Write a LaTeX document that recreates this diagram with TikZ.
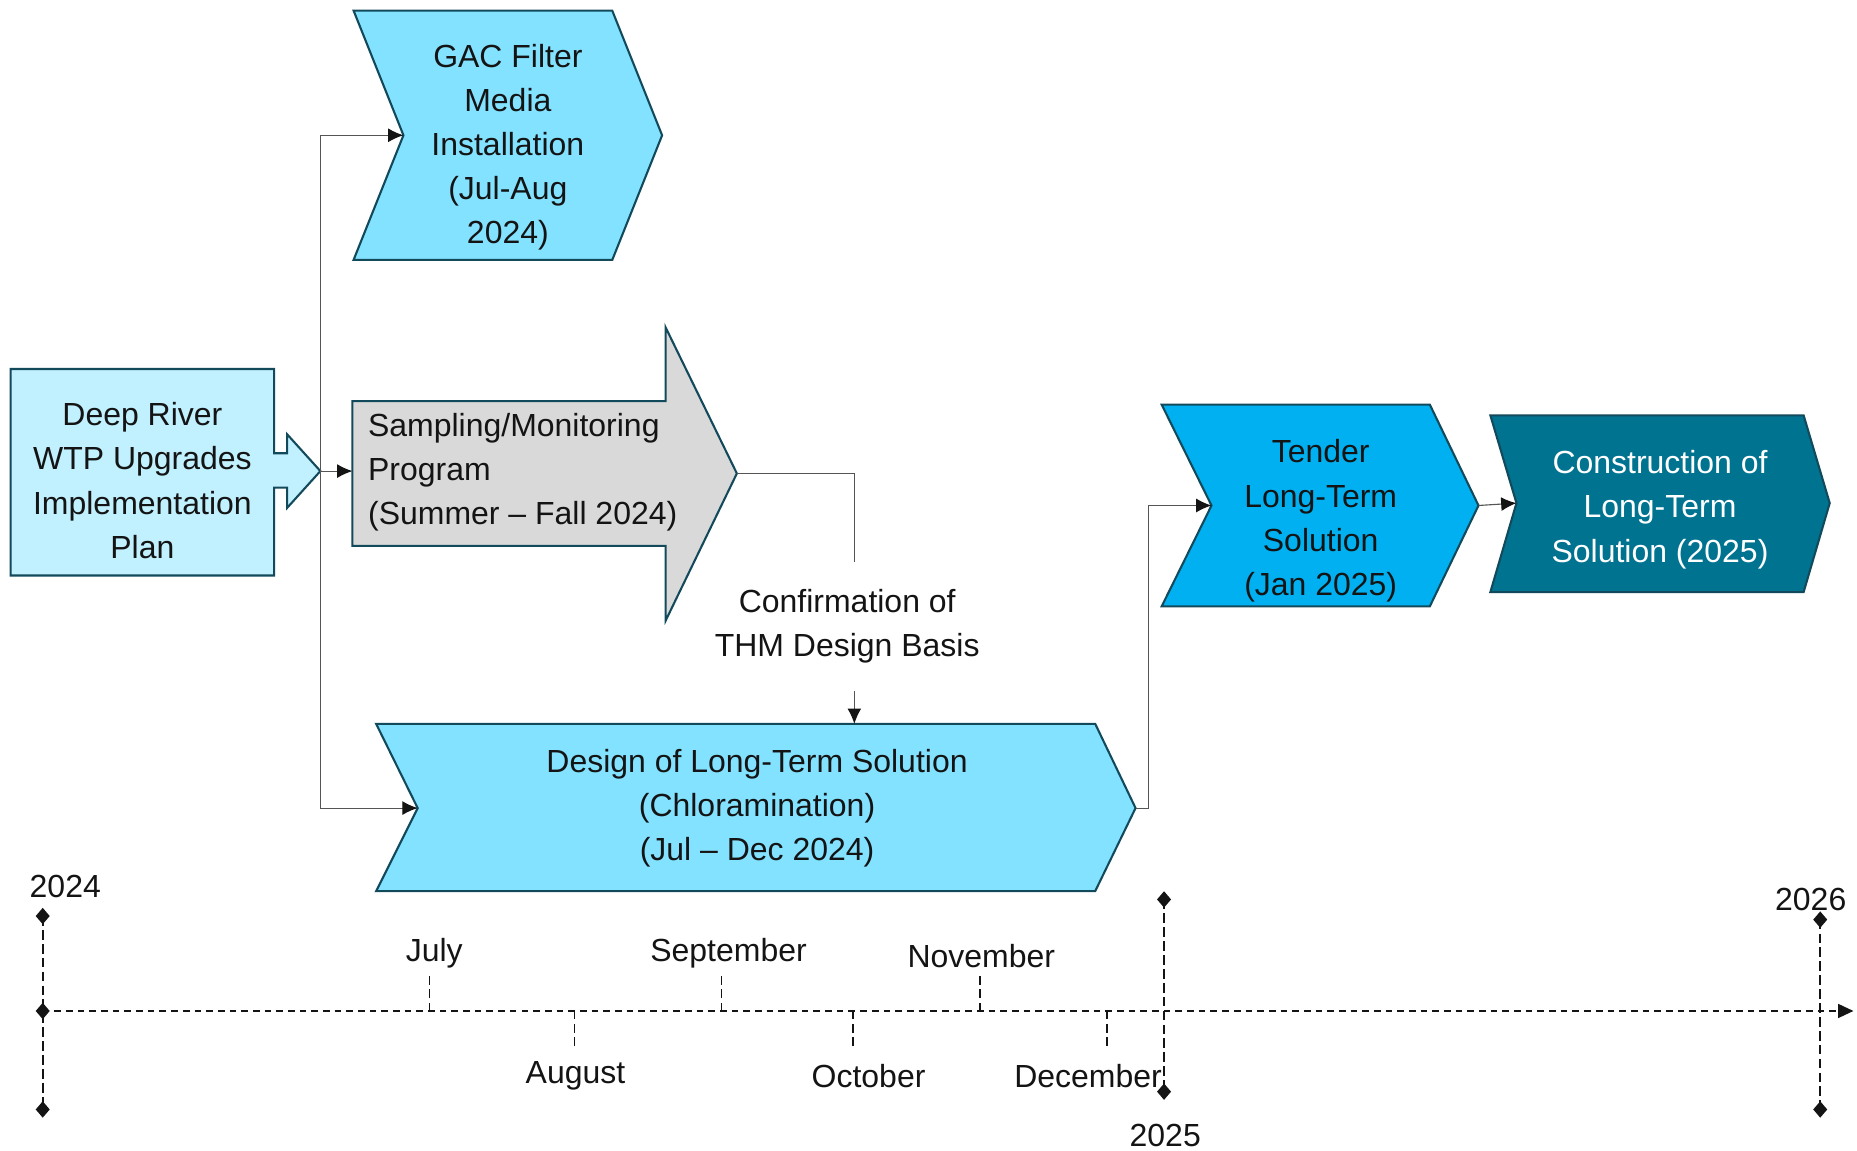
\documentclass[tikz,border=0pt]{standalone}
\usepackage{fontspec}
\setmainfont{Liberation Sans}
\usetikzlibrary{arrows.meta,shapes.geometric,calc}
\definecolor{edge}{HTML}{124A5C}
\definecolor{palecyan}{HTML}{C1F0FF}
\definecolor{skycyan}{HTML}{83E2FF}
\definecolor{greyfill}{HTML}{D9D9D9}
\definecolor{brightblue}{HTML}{00B0F0}
\definecolor{deepteal}{HTML}{007391}
\definecolor{connline}{HTML}{555555}
\definecolor{ink}{HTML}{141414}
\begin{document}
\begin{tikzpicture}[x=0.03cm,y=-0.03cm,
  shapeline/.style={draw=edge,line width=1.5pt,line join=miter},
  txt/.style={font=\fontsize{23}{31.8}\selectfont,align=center,inner sep=0pt,text=ink},
  conn/.style={draw=connline,line width=0.8pt},
  arr/.style={conn,-{Latex[length=11pt,width=10pt,color=ink]}},
  tl/.style={draw=ink,line width=1.3pt,dash pattern=on 4.8pt off 3.6pt},
  tlyear/.style={draw=ink,line width=1.3pt,dash pattern=on 7pt off 3pt},
  dia/.style={diamond,fill=ink,inner sep=0pt,minimum width=0.36cm,minimum height=0.42cm},
  lbl/.style={font=\fontsize{23}{31.8}\selectfont,inner sep=0pt,text=ink}
]
\useasboundingbox (0,0) rectangle (1565,970);

% ---------- shapes ----------
% Deep River callout
\path[shapeline,fill=palecyan] (9,311) -- (231,311) -- (231,382) -- (242,382) -- (242,366)
  -- (270,397) -- (242,428) -- (242,411) -- (231,411) -- (231,485) -- (9,485) -- cycle;
\coordinate (drp-tip) at (270,397);
\node[txt] (drp) at (120,405) {Deep River\\WTP Upgrades\\Implementation\\Plan};

% GAC chevron
\path[shapeline,fill=skycyan] (298,9) -- (516,9) -- (558,114) -- (516,219) -- (298,219) -- (340,114) -- cycle;
\coordinate (gac-notch) at (340,114);
\node[txt] (gac) at (428,124) {GAC Filter\\Media\\Installation\\(Jul-Aug\\2024)};

% Sampling arrow
\path[shapeline,fill=greyfill] (297,338) -- (561,338) -- (561,276) -- (621,399) -- (561,523)
  -- (561,460) -- (297,460) -- cycle;
\coordinate (samp-w) at (297,397);
\coordinate (samp-tip) at (621,399);
\node[txt,align=left,anchor=west] (samp) at (310,398) {Sampling/Monitoring\\Program\\(Summer -- Fall 2024)};

% Design chevron
\path[shapeline,fill=skycyan] (317,610) -- (923,610) -- (957,681) -- (923,751) -- (317,751) -- (352,681) -- cycle;
\coordinate (des-notch) at (352,681);
\coordinate (des-tip) at (957,681);
\coordinate (des-top) at (720,610);
\node[txt] (des) at (638,681) {Design of Long-Term Solution\\(Chloramination)\\(Jul -- Dec 2024)};

% Tender chevron
\path[shapeline,fill=brightblue] (979,341) -- (1205,341) -- (1246,426) -- (1205,511) -- (979,511) -- (1021,426) -- cycle;
\coordinate (ten-notch) at (1021,426);
\coordinate (ten-tip) at (1246,426);
\node[txt] (ten) at (1113,439) {Tender\\Long-Term\\Solution\\(Jan 2025)};

% Construction chevron
\path[shapeline,fill=deepteal] (1256,350) -- (1520,350) -- (1542,424) -- (1520,499) -- (1256,499) -- (1278,424) -- cycle;
\coordinate (con-notch) at (1278,424);
\node[txt,text=white] (con) at (1399,429.5) {Construction of\\Long-Term\\Solution (2025)};

% Confirmation label
\node[txt,minimum height=3.24cm] (conf) at (714,528) {Confirmation of\\THM Design Basis};

% ---------- connectors ----------
\coordinate (jx) at (968,0);
\draw[arr] (drp-tip) |- (gac-notch);
\draw[arr] (drp-tip) |- (des-notch);
\draw[arr] (drp-tip) -- (samp-w);
\draw[conn] (samp-tip) -| (des-top |- conf.north);
\draw[arr] (des-top |- conf.south) -- (des-top);
\draw[arr] (des-tip) -- (des-tip -| jx) |- (ten-notch);
\draw[arr] (ten-tip) -- (con-notch);

% ---------- timeline ----------
\node[dia] (y24a) at (36,772) {};
\node[dia] (y24m) at (36,852) {};
\node[dia] (y24b) at (36,935) {};
\coordinate (tlend) at (1562,852);
\draw[tlyear] (y24a.center) -- (y24b.center);
\draw[tl,-{Triangle[length=11pt,width=10pt]}] (y24m.center) -- (tlend);
\node[lbl] (l24) at (55,747) {2024};

\node[dia] (y25a) at (981,758) {};
\node[dia] (y25b) at (981,920) {};
\draw[tlyear] (y25a.center) -- (y25b.center);
\node[lbl] (l25) at (982,957) {2025};

\node[dia] (y26a) at (1534,775) {};
\node[dia] (y26b) at (1534,935) {};
\draw[tlyear] (y26a.center) -- (y26b.center);
\node[lbl] (l26) at (1526,758) {2026};

% month ticks
\coordinate (jul) at (362,852);  \coordinate (julT) at (362,820);
\coordinate (aug) at (484,852);  \coordinate (augT) at (484,885);
\coordinate (sep) at (608,852);  \coordinate (sepT) at (608,820);
\coordinate (oct) at (719,852);  \coordinate (octT) at (719,883);
\coordinate (nov) at (826,852);  \coordinate (novT) at (826,820);
\coordinate (dec) at (933,852);  \coordinate (decT) at (933,885);
\foreach \m in {jul,aug,sep,oct,nov,dec} { \draw[tl,line width=1pt,dash pattern=on 6pt off 3.5pt] (\m) -- (\m T); }
\node[lbl] (ljul) at (366,803) {July};
\node[lbl] (laug) at (485,907) {August};
\node[lbl] (lsep) at (614,803) {September};
\node[lbl] (loct) at (732,907) {October};
\node[lbl] (lnov) at (827,806) {November};
\node[lbl] (ldec) at (917,907) {December};
\end{tikzpicture}
\end{document}
